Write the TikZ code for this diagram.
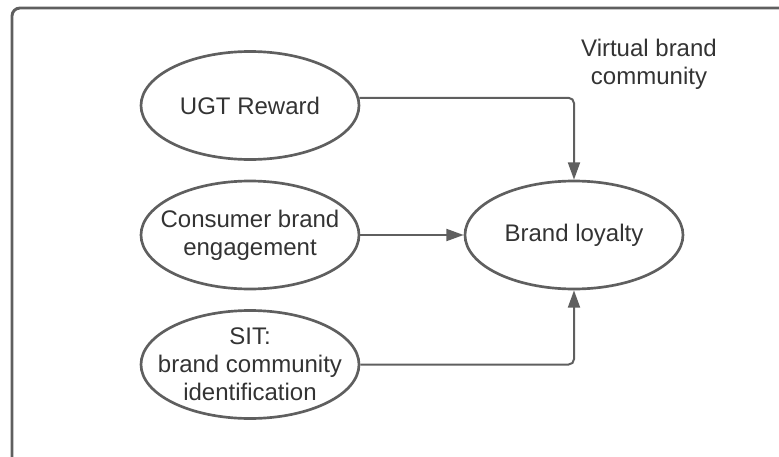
\documentclass[tikz,border=0pt]{standalone}
\usepackage{fontspec}
\setmainfont{Liberation Sans}
\usetikzlibrary{arrows.meta,shapes.geometric}
\definecolor{linegray}{HTML}{5F5F5F}
\definecolor{textgray}{HTML}{333333}
\tikzset{
    every node/.style={align=center,text=textgray,font=\fontsize{18}{21}\selectfont,},
    construct/.style={draw=linegray,ellipse,line width=2pt,inner sep=-20pt,minimum width=163.5pt,minimum height=81pt,},
    link/.style={draw=linegray,line width=1.5pt,rounded corners=4pt,-{Triangle[length=13pt,width=9pt]},},
}

\begin{document}
\begin{tikzpicture}[x=0.75pt,y=-0.75pt]
    \useasboundingbox (0,0) rectangle (779,457);
    \draw[linegray,line width=2.2pt,rounded corners=6pt] (12,457) -- (12,8) -- (779,8);

    \node[construct] (ugt) at (250,105.5) {UGT Reward};
    \node[construct] (engagement) at (250,235) {Consumer brand\\engagement};
    \node[construct] (sit) at (250,364.5) {SIT:\\brand community\\identification};

    \node[construct] (loyalty) at (574,235) {Brand loyalty};

    \node (community) at (649,64.5) {Virtual brand\\community};

    \draw[link] (ugt.4) -| (loyalty.north);
    \draw[link] (engagement.east) to (loyalty.west);
    \draw[link] (sit.east) -| (loyalty.south);
\end{tikzpicture}
\end{document}
